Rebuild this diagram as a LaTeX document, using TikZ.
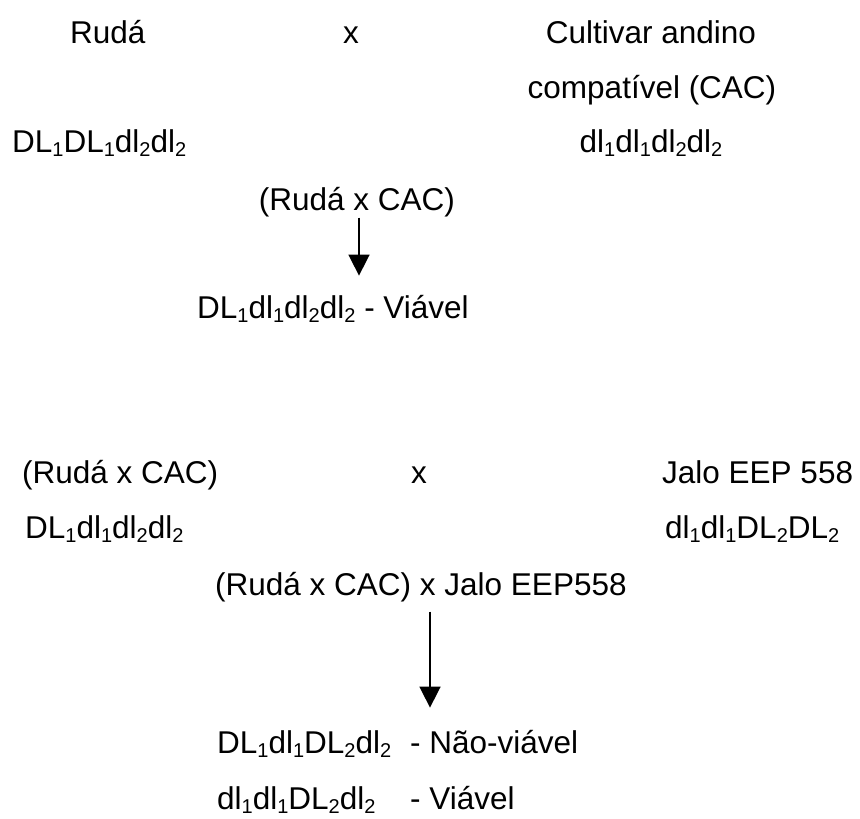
\documentclass[tikz,border=0pt]{standalone}
\usepackage{fontspec}
\setmainfont{Liberation Sans}
\usepackage{tikz}
\usetikzlibrary{arrows.meta}
\newcommand{\lsub}[1]{\raisebox{-4.5pt}{\fontsize{20}{20}\selectfont #1}}
\tikzset{
  txt/.style={font=\fontsize{31.5}{38}\selectfont, inner sep=0pt, anchor=base west},
  ctxt/.style={txt, anchor=base},
  seta/.style={-{Triangle[width=21pt,length=21pt]}, line width=1.6pt}
}
\begin{document}
\begin{tikzpicture}[x=1pt, y=-1pt]
  \useasboundingbox (0,0) rectangle (860,819);
  \node[txt]  (ruda)  at (70,43)   {Rudá};
  \node[ctxt] (cruzA) at (351,43)  {x};
  \node[ctxt] (cacA)  at (651,43)  {Cultivar andino};
  \node[ctxt] (cacB)  at (652,98)  {compatível (CAC)};
  \node[txt]  (gRuda) at (12,152)  {DL\lsub1DL\lsub1dl\lsub2dl\lsub2};
  \node[ctxt] (gCac)  at (651,152) {dl\lsub1dl\lsub1dl\lsub2dl\lsub2};
  \node[ctxt] (fA)    at (357,210) {(Rudá x CAC)};
  \node[txt]  (vA)    at (197,318) {DL\lsub1dl\lsub1dl\lsub2dl\lsub2 - Viável};
  \draw[seta, shorten <=1pt, shorten >=19pt] ([xshift=2pt]fA.south) -- ([xshift=2pt]fA.south |- vA.north);

  \node[txt]  (fB)    at (22,483)  {(Rudá x CAC)};
  \node[ctxt] (cruzB) at (419,483) {x};
  \node[txt]  (jalo)  at (662,483) {Jalo EEP 558};
  \node[txt]  (gF)    at (25,538)  {DL\lsub1dl\lsub1dl\lsub2dl\lsub2};
  \node[txt]  (gJalo) at (665,538) {dl\lsub1dl\lsub1DL\lsub2DL\lsub2};
  \node[txt]  (fC)    at (215,595) {(Rudá x CAC) x Jalo EEP558};
  \node[txt]  (nv)    at (217,753) {\makebox[193pt][l]{DL\lsub1dl\lsub1DL\lsub2dl\lsub2}- Não-viável};
  \node[txt]  (vv)    at (217,809) {\makebox[193pt][l]{dl\lsub1dl\lsub1DL\lsub2dl\lsub2}- Viável};
  \draw[seta, shorten <=10pt, shorten >=22pt] ([xshift=215pt]fC.south west) -- ([xshift=215pt]fC.south west |- nv.north);
\end{tikzpicture}
\end{document}
